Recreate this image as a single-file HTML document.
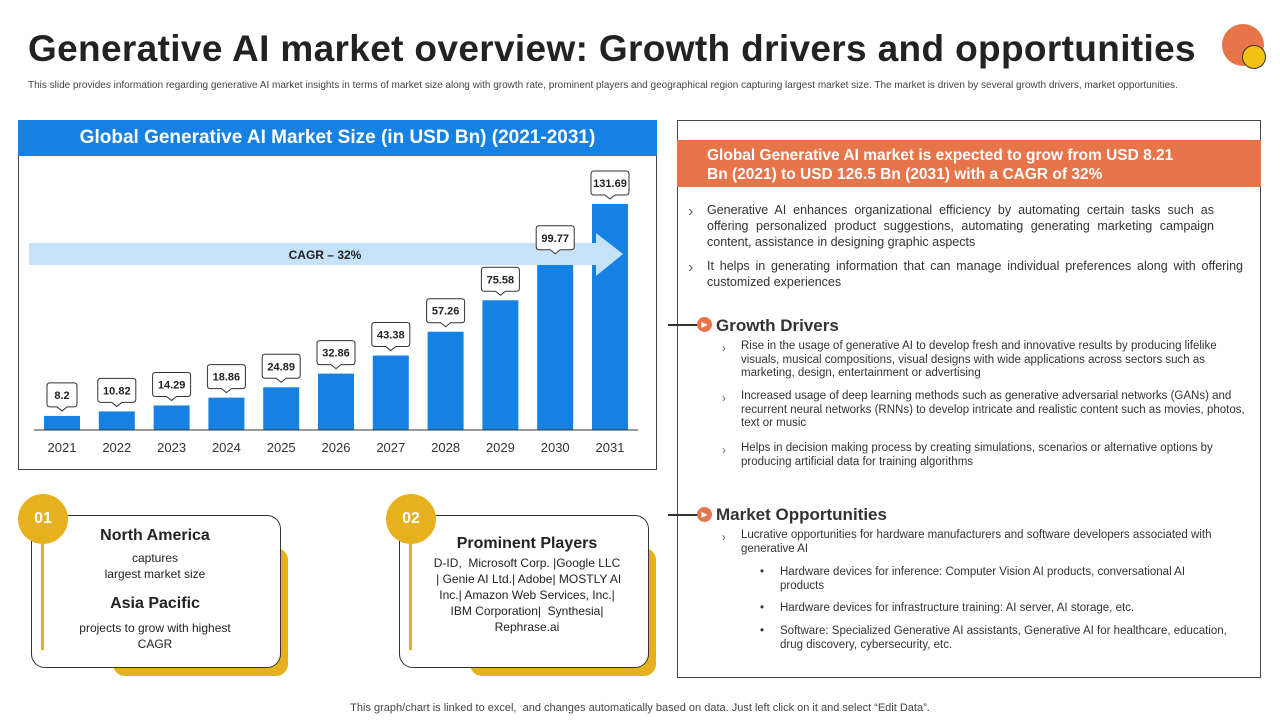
<!DOCTYPE html>
<html><head><meta charset="utf-8"><style>
*{margin:0;padding:0;box-sizing:border-box}
body{width:1280px;height:720px;background:#fff;font-family:"Liberation Sans",sans-serif;color:#222;position:relative;overflow:hidden}
.abs{position:absolute}
h1{position:absolute;left:28px;top:28px;font-size:37px;font-weight:bold;color:#222;letter-spacing:0.35px}
.sub{left:28px;top:80px;width:1160px;font-size:10px;color:#444;line-height:12px}
.rp{left:677px;top:120px;width:584px;height:558px;border:1px solid #444}
.hdr{left:677px;top:140px;width:584px;height:47px;background:#E8744A;color:#fff;font-weight:bold;font-size:15.5px;padding:6px 70px 0 30px;line-height:19px}
.t{font-size:12.5px;color:#333;line-height:16px}
.s{font-size:11.5px;color:#333;line-height:13.5px}
.bul{position:absolute;color:#666}
.sec{font-size:17px;font-weight:bold;color:#333}
.card{background:#fff;border:1.5px solid #333;border-radius:14px}
.shadow{background:#E6B11F;border-radius:0 12px 12px 12px}
.circ{width:50px;height:50px;border-radius:50%;background:#E6B11F;color:#fff;font-weight:bold;font-size:16px;text-align:center;line-height:50px}
</style></head><body>
<h1>Generative AI market overview: Growth drivers and opportunities</h1>
<div class="abs sub">This slide provides information regarding generative AI market insights in terms of market size along with growth rate, prominent players and geographical region capturing largest market size. The market is driven by several growth drivers, market opportunities.</div>
<div class="abs" style="left:1222px;top:24px;width:42px;height:42px;border-radius:50%;background:#E8744A"></div>
<div class="abs" style="left:1242px;top:45px;width:24px;height:24px;border-radius:50%;background:#F2C114;border:1.5px solid #333"></div>

<div class="abs" style="left:18px;top:120px;width:639px;height:350px;border:1px solid #444"></div>
<div class="abs" style="left:18px;top:120px;width:639px;height:36px;background:#1582E3;color:#fff;font-weight:bold;font-size:19px;text-align:center;line-height:36px">Global Generative AI Market Size (in USD Bn) (2021-2031)</div>
<svg id="chart" class="abs" style="left:0;top:0" width="660" height="470"></svg>

<div class="abs rp"></div>
<div class="abs hdr">Global Generative AI market is expected to grow from USD 8.21 Bn (2021) to USD 126.5 Bn (2031) with a CAGR of 32%</div>
<span class="bul" style="left:688px;top:203px">›</span>
<div class="abs t" style="left:707px;top:202px;width:507px;text-align:justify">Generative AI enhances organizational efficiency by automating certain tasks such as offering personalized product suggestions, automating generating marketing campaign content, assistance in designing graphic aspects</div>
<span class="bul" style="left:688px;top:259px">›</span>
<div class="abs t" style="left:707px;top:258px;width:536px;text-align:justify">It helps in generating information that can manage individual preferences along with offering customized experiences</div>

<div class="abs" style="left:668px;top:324px;width:32px;height:1.5px;background:#333"></div>
<div class="abs" style="left:697px;top:317px;width:15px;height:15px;border-radius:50%;background:#E8744A;color:#fff;font-size:8px;text-align:center;line-height:15px">▶</div>
<div class="abs sec" style="left:716px;top:316px">Growth Drivers</div>
<span class="bul s" style="left:722px;top:343px">›</span>
<div class="abs s" style="left:741px;top:340px;width:505px">Rise in the usage of generative AI to develop fresh and innovative results by producing lifelike visuals, musical compositions, visual designs with wide applications across sectors such as marketing, design, entertainment or advertising</div>
<span class="bul s" style="left:722px;top:393px">›</span>
<div class="abs s" style="left:741px;top:390px;width:505px">Increased usage of deep learning methods such as generative adversarial networks (GANs) and recurrent neural networks (RNNs) to develop intricate and realistic content such as movies, photos, text or music</div>
<span class="bul s" style="left:722px;top:445px">›</span>
<div class="abs s" style="left:741px;top:442px;width:505px">Helps in decision making process by creating simulations, scenarios or alternative options by producing artificial data for training algorithms</div>

<div class="abs" style="left:668px;top:514px;width:32px;height:1.5px;background:#333"></div>
<div class="abs" style="left:697px;top:507px;width:15px;height:15px;border-radius:50%;background:#E8744A;color:#fff;font-size:8px;text-align:center;line-height:15px">▶</div>
<div class="abs sec" style="left:716px;top:505px">Market Opportunities</div>
<span class="bul s" style="left:722px;top:532px">›</span>
<div class="abs s" style="left:741px;top:529px;width:500px">Lucrative opportunities for hardware manufacturers and software developers associated with generative AI</div>
<span class="abs s" style="left:760px;top:566px">•</span>
<div class="abs s" style="left:780px;top:566px;width:430px">Hardware devices for inference: Computer Vision AI products, conversational AI products</div>
<span class="abs s" style="left:760px;top:602px">•</span>
<div class="abs s" style="left:780px;top:602px;width:460px">Hardware devices for infrastructure training: AI server, AI storage, etc.</div>
<span class="abs s" style="left:760px;top:625px">•</span>
<div class="abs s" style="left:780px;top:625px;width:470px">Software: Specialized Generative AI assistants, Generative AI for healthcare, education, drug discovery, cybersecurity, etc.</div>

<div class="abs shadow" style="left:113px;top:548px;width:175px;height:128px"></div>
<div class="abs card" style="left:31px;top:515px;width:250px;height:153px"></div>
<div class="abs" style="left:41px;top:540px;width:3px;height:110px;background:#E6B11F"></div>
<div class="abs circ" style="left:18px;top:494px">01</div>
<div class="abs" style="left:50px;top:527px;width:210px;text-align:center;color:#222">
<div style="font-size:16px;font-weight:bold">North America</div>
<div style="font-size:12px;line-height:16px;margin-top:5px">captures<br>largest market size</div>
<div style="font-size:16px;font-weight:bold;margin-top:13px">Asia Pacific</div>
<div style="font-size:12px;line-height:16px;margin-top:7px">projects to grow with highest<br>CAGR</div></div>

<div class="abs shadow" style="left:470px;top:548px;width:186px;height:128px"></div>
<div class="abs card" style="left:399px;top:515px;width:250px;height:153px"></div>
<div class="abs" style="left:409px;top:540px;width:3px;height:110px;background:#E6B11F"></div>
<div class="abs circ" style="left:386px;top:494px">02</div>
<div class="abs" style="left:432px;top:535px;width:190px;text-align:center;color:#222">
<div style="font-size:16px;font-weight:bold">Prominent Players</div>
<div style="font-size:12px;line-height:16px;margin-top:2px">D-ID,&nbsp; Microsoft Corp. |Google LLC &nbsp;| Genie AI Ltd.| Adobe| MOSTLY AI Inc.| Amazon Web Services, Inc.| IBM Corporation|&nbsp; Synthesia| Rephrase.ai</div></div>

<div class="abs" style="left:0;top:702px;width:1280px;text-align:center;font-size:11px;color:#444">This graph/chart is linked to excel,&nbsp; and changes automatically based on data. Just left click on it and select “Edit Data”.</div>

<script>
const years=["2021","2022","2023","2024","2025","2026","2027","2028","2029","2030","2031"];
const values=[8.2,10.82,14.29,18.86,24.89,32.86,43.38,57.26,75.58,99.77,131.69];
const labels=["8.2","10.82","14.29","18.86","24.89","32.86","43.38","57.26","75.58","99.77","131.69"];
const svg=document.getElementById('chart');
const NS='http://www.w3.org/2000/svg';
const base=430,top0=204,vmax=131.69,x0=62,step=54.8,bw=36;
const y=v=>base-(v/vmax)*(base-top0);
const x=i=>x0+i*step;
function mk(t,a){const e=document.createElementNS(NS,t);for(const k in a)e.setAttribute(k,a[k]);svg.appendChild(e);return e;}
values.forEach((v,i)=>{
 const cx=x(i),ty=y(v);
 const r=mk('rect',{x:cx-bw/2,y:ty,width:bw,height:base-ty,fill:'#1582E3'});
 
 
});
const ar=mk('polygon',{points:'29,243 596,243 596,233 623,254 596,276 596,265 29,265',fill:'#C5E2F9'});


const at=mk('text',{x:325,y:259,'text-anchor':'middle','font-size':'12','font-weight':'bold',fill:'#222','font-family':'Liberation Sans'});
at.textContent='CAGR – 32%';


values.forEach((v,i)=>{
 const cx=x(i),ty=y(v);
 const w=labels[i].length>4?38:30, by=ty-33;
 const b=mk('path',{d:`M${cx-w/2+3},${by} h${w-6} q3,0 3,3 v18 q0,3 -3,3 h${-(w/2-8)} l-5,4 l-5,-4 h${-(w/2-8)} q-3,0 -3,-3 v-18 q0,-3 3,-3z`,fill:'#fff',stroke:'#333','stroke-width':'1'});
 
 
 const t=mk('text',{x:cx,y:by+16,'text-anchor':'middle','font-size':'11','font-weight':'bold',fill:'#222','font-family':'Liberation Sans'});
 t.textContent=labels[i];
 
 
 const yl=mk('text',{x:cx,y:452,'text-anchor':'middle','font-size':'13',fill:'#333','font-family':'Liberation Sans'});
 yl.textContent=years[i];
 
 
});
const ax=mk('line',{x1:34,x2:638,y1:base,y2:base,stroke:'#333','stroke-width':'1'});


</script>
</body></html>
